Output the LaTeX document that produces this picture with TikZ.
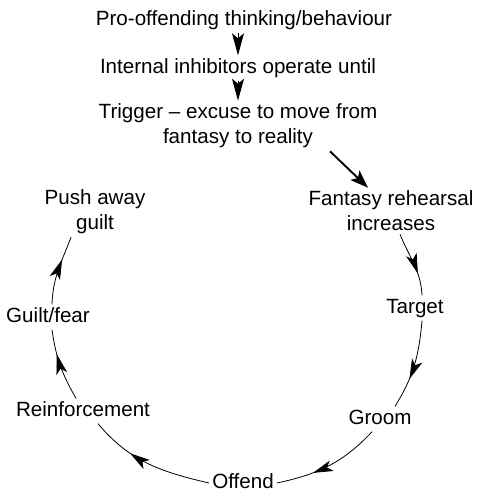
\documentclass[tikz,border=0pt]{standalone}
\usepackage{fontspec}
\setmainfont{Liberation Sans}
\usetikzlibrary{arrows.meta,decorations.markings}
\begin{document}
\begin{tikzpicture}[x=1pt,y=-1pt,
  lbl/.style={font=\fontsize{20.6}{25}\selectfont,align=center,inner sep=3pt},
  one/.style={text height=15pt,text depth=4pt},
  toparrow/.style={line width=1pt,-{Stealth[length=22pt,width=12pt,inset=5pt]}},
  diag/.style={line width=1.9pt,-{Stealth[length=18pt,width=13pt,inset=4pt]}},
  cyc/.style={line width=0.8pt,postaction={decorate},
    decoration={markings,mark=at position 0.66 with {\arrow{Stealth[length=20pt,width=11pt,inset=5pt]}}}}]
\useasboundingbox (0,0) rectangle (489,493);
\node[lbl,one] (pro) at (244,20) {Pro-offending thinking/behaviour};
\node[lbl,one] (inh) at (238,68) {Internal inhibitors operate until};
\node[lbl] (trig) at (238,126) {Trigger -- excuse to move from\\fantasy to reality};
\node[lbl] (fant) at (391,211) {Fantasy rehearsal\\increases};
\node[lbl,one] (target) at (415,308) {Target};
\node[lbl,one] (groom) at (380,419) {Groom};
\node[lbl,one] (offend) at (243,483) {Offend};
\node[lbl,one] (reinf) at (83,411) {Reinforcement};
\node[lbl,one] (guilt) at (48,317) {Guilt/fear};
\node[lbl] (push) at (95,212) {Push away\\guilt};
\draw[toparrow] (pro.south -| inh.north) -- (inh.north);
\draw[toparrow] (inh.south) -- (trig.north);
\draw[diag] ([xshift=92pt]trig.south) -- ([xshift=-23pt]fant.north);
\draw[cyc] ([xshift=9pt]fant.south) to[out=-68,in=93] ([xshift=7pt]target.north);
\draw[cyc] ([xshift=7pt]target.south) to[out=-95,in=58] ([xshift=15pt]groom.north);
\draw[cyc] ([xshift=-8pt]groom.south) to[out=-133,in=12] (offend.east);
\draw[cyc] (offend.west) to[out=167,in=-50] ([xshift=15pt]reinf.south);
\draw[cyc] ([xshift=-7pt]reinf.north) to[out=120,in=-82] ([xshift=4pt]guilt.south);
\draw[cyc] ([xshift=4pt]guilt.north) to[out=88,in=-111] ([xshift=-24pt]push.south);
\end{tikzpicture}
\end{document}
